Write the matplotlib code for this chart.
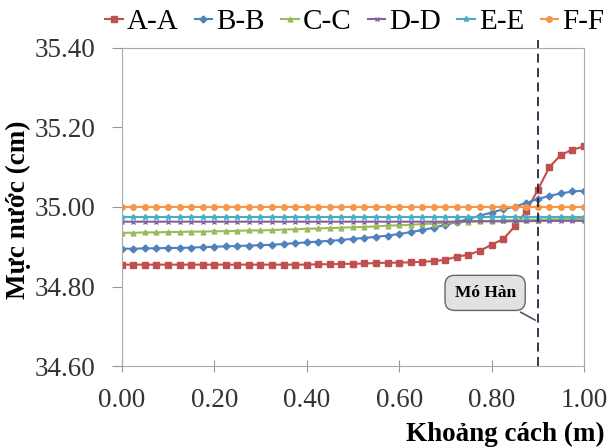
import matplotlib
matplotlib.use("Agg")
from matplotlib import pyplot as plt

plt.rcParams['font.family'] = 'serif'
plt.rcParams['font.serif'] = ['Liberation Serif', 'DejaVu Serif']

# khoang cach (m)
x = [0.000, 0.025, 0.050, 0.075, 0.100, 0.125, 0.150, 0.175, 0.200, 0.225,
     0.250, 0.275, 0.300, 0.325, 0.350, 0.375, 0.400, 0.425, 0.450, 0.475,
     0.500, 0.525, 0.550, 0.575, 0.600, 0.625, 0.650, 0.675, 0.700, 0.725,
     0.750, 0.775, 0.800, 0.825, 0.850, 0.875, 0.900, 0.925, 0.950, 0.975,
     1.000]

aa = [34.855] * 17 + [34.856, 34.856, 34.857, 34.857, 34.858, 34.859,
                     34.860, 34.860, 34.861, 34.862, 34.864, 34.867, 34.875,
                     34.880, 34.890, 34.905, 34.919, 34.951, 34.989, 35.043,
                     35.100, 35.131, 35.144, 35.152]
bb = [34.895, 34.895, 34.896, 34.896, 34.897, 34.897, 34.898, 34.899, 34.900,
      34.901, 34.902, 34.903, 34.904, 34.905, 34.907, 34.909, 34.911, 34.913,
      34.915, 34.917, 34.920, 34.922, 34.925,
      34.928, 34.932, 34.937, 34.942, 34.948, 34.955, 34.962, 34.970, 34.978,
      34.986, 34.994, 35.001, 35.010, 35.020, 35.028, 35.034, 35.039, 35.041]
cc = [34.935, 34.935, 34.936, 34.936, 34.937, 34.937, 34.938, 34.938, 34.939,
      34.939, 34.940, 34.941, 34.941, 34.942, 34.943, 34.944, 34.945, 34.946,
      34.947, 34.948, 34.949, 34.950, 34.951, 34.953, 34.954, 34.955, 34.957,
      34.958, 34.960, 34.961, 34.963, 34.964, 34.965, 34.966, 34.967, 34.968,
      34.968, 34.969, 34.969, 34.970, 34.970]
dd = [34.963] * 30 + [34.964] * 6 + [34.965] * 5
ee = [34.975] * 41
ff = [35.000] * 41

names = ['A-A', 'B-B', 'C-C', 'D-D', 'E-E', 'F-F']
series = [aa, bb, cc, dd, ee, ff]
colors = ['#C0504D', '#4F81BD', '#9BBB59', '#8064A2', '#4BACC6', '#F79646']
markers = ['s', 'D', '^', 'x', '*', 'o']
msizes = [5, 3.5, 3.5, 3.5, 4, 4]

fig = plt.figure(figsize=(6.09, 4.47), dpi=100)
ax = fig.add_axes([0.200, 0.181, 0.759, 0.712])

for i in range(len(names)):
    ax.plot(x, series[i], color=colors[i], marker=markers[i], ms=msizes[i],
            lw=1.5, label=names[i])

# vi tri mo han
ax.axvline(0.9, color='#1f2a44', ls=(0, (5, 3)), lw=1.3, ymin=0, ymax=1.025,
           clip_on=False)
ax.annotate('Mó Hàn', xy=(0.9, 34.712), xytext=(0.786, 34.784),
            fontsize=12.5, fontweight='bold', ha='center', va='center',
            bbox=dict(boxstyle='round,pad=0.55', fc='#e2e2e2', ec='#666666'),
            arrowprops=dict(arrowstyle='-', color='#555555', lw=1.2))

ax.set_xlim(0, 1)
ax.set_ylim(34.6, 35.4)
ax.set_xticks([0, 0.2, 0.4, 0.6, 0.8, 1.0])
ax.set_yticks([34.6, 34.8, 35.0, 35.2, 35.4])
ax.set_xticklabels(['0.00', '0.20', '0.40', '0.60', '0.80', '1.00'])
ax.set_yticklabels(['34.60', '34.80', '35.00', '35.20', '35.40'])
ax.tick_params(axis='x', direction='inout', length=8, labelsize=19.5,
               color='#999999', labelcolor='#333333', pad=12)
ax.tick_params(axis='y', direction='out', length=7, labelsize=19.5,
               color='#999999', labelcolor='#333333', pad=12)
for s in ax.spines.values():
    s.set_color('#aaaaaa')

fig.text(0.993, 0.029, 'Khoảng cách (m)', ha='right', va='center',
         fontsize=19.5, fontweight='bold')
fig.text(0.031, 0.53, 'Mực nước (cm)', ha='center', va='center',
         rotation=90, fontsize=19.5, fontweight='bold')

ax.legend(loc='center', bbox_to_anchor=(0.504, 1.082), ncol=6,
          frameon=False, fontsize=21, handlelength=0.6, handletextpad=0.15,
          columnspacing=0.55, borderaxespad=0, borderpad=0)

fig.savefig('out.png', dpi=100)
